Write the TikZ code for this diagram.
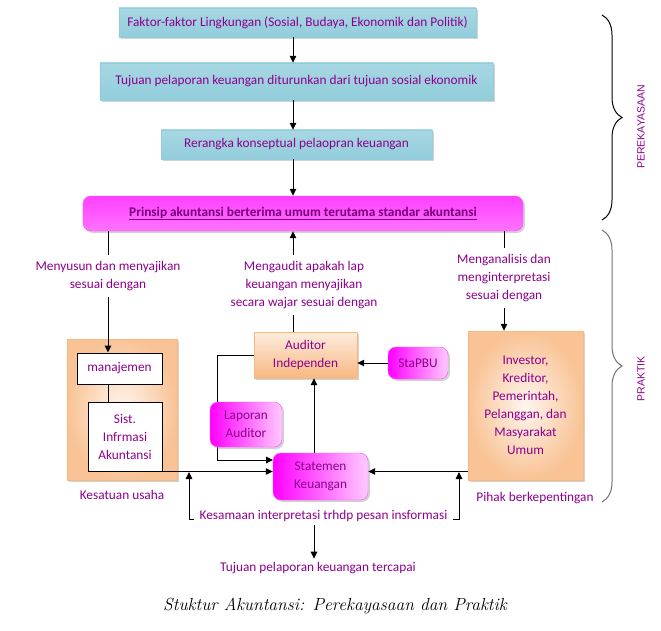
\documentclass[tikz,border=0pt]{standalone}
\usepackage{fontspec}
\newfontfamily\calibri{Carlito}
\newfontfamily\arial{Liberation Sans}
\usepackage{tikz}
\usetikzlibrary{positioning}
\usetikzlibrary{shadows}
\usetikzlibrary{arrows.meta}
\usetikzlibrary{decorations.pathreplacing}

\definecolor{ungu}{RGB}{140,0,140}
\definecolor{birutua}{RGB}{146,205,220}
\definecolor{birumuda}{RGB}{230,245,249}
\definecolor{oranye}{RGB}{248,184,130}
\definecolor{oranyemuda}{RGB}{253,236,222}
\definecolor{merahjambu}{RGB}{255,0,255}
\definecolor{jambumuda}{RGB}{255,180,255}

\tikzset{
	tulisan/.style={text=ungu,font=\calibri\fontsize{13.3bp}{18bp}\selectfont,align=center},
	bayang/.style={drop shadow={shadow xshift=2bp,shadow yshift=-2bp,fill=black!35}},
	kotakbiru/.style={tulisan,draw=birutua,top color=birutua!80,middle color=birumuda,bottom color=birutua,bayang,inner sep=0pt},
	kotakjambu/.style={tulisan,draw=merahjambu!70,rounded corners=8bp,left color=merahjambu,right color=jambumuda!70,bayang,inner sep=0pt},
	kotakprinsip/.style={kotakjambu,top color=merahjambu!75,middle color=jambumuda!60,bottom color=merahjambu!55},
	kotakoranye/.style={tulisan,draw=oranye,shading=radial,inner color=oranyemuda!50,outer color=oranye!85,bayang,inner sep=0pt},
	kotakauditor/.style={tulisan,draw=oranye,top color=oranyemuda,bottom color=oranye,bayang,inner sep=0pt},
	kotakputih/.style={tulisan,draw=black,fill=white,line width=1bp,inner sep=0pt},
	garis/.style={line width=1bp,black},
	panah/.style={garis,-{Triangle[length=7bp,width=6.5bp]}},
	kurung/.style={decorate,decoration={brace,amplitude=20bp},line width=1bp}
}

\begin{document}
\begin{tikzpicture}[x=1bp,y=-1bp]
	\useasboundingbox (0,0) rectangle (661,631);
	%% perekayasaan
	\coordinate (sumbu) at (293,0);
	\coordinate (naik) at (314,0);
	\node[kotakbiru,minimum width=357bp,minimum height=29bp] (f1) at (297.5,22.5) {Faktor-faktor Lingkungan (Sosial, Budaya, Ekonomik dan Politik)};
	\node[kotakbiru,minimum width=393bp,minimum height=37bp] (f2) at (296.5,81.5) {Tujuan pelaporan keuangan diturunkan dari tujuan sosial ekonomik};
	\node[kotakbiru,minimum width=271bp,minimum height=29bp] (f3) at (296.5,144.5) {Rerangka konseptual pelaopran keuangan};
	\node[kotakprinsip,minimum width=440bp,minimum height=35bp,text=ungu!85!black] (f4) at (303,213.5) {\textbf{\underline{Prinsip akuntansi berterima umum terutama standar akuntansi}}};
	% panah antar kotak
	\draw[panah] (f1.south -| sumbu) -- (f2.north -| sumbu);
	\draw[panah] (f2.south -| sumbu) -- (f3.north -| sumbu);
	\draw[panah] (f3.south -| sumbu) -- (f4.north -| sumbu);
	%% praktik
	\node[tulisan,inner ysep=6bp] (t1) at (108,276) {Menyusun dan menyajikan\\sesuai dengan};
	\node[tulisan,inner ysep=6bp] (t2) at (304,285) {Mengaudit apakah lap\\keuangan menyajikan\\secara wajar sesuai dengan};
	\node[tulisan,inner ysep=6bp] (t3) at (504,278) {Menganalisis dan\\menginterpretasi\\sesuai dengan};
	\node[kotakoranye,minimum width=110bp,minimum height=141bp] (k1) at (122,409.5) {};
	\node[kotakputih,minimum width=85bp,minimum height=31bp] (k2) at (119.5,368.5) {manajemen};
	\node[kotakputih,minimum width=74bp,minimum height=69bp] (k3) at (125,436.5) {Sist.\\Infrmasi\\Akuntansi};
	\node[tulisan,below=7bp of k1] (k4) {Kesatuan usaha};
	\node[kotakauditor,minimum width=103bp,minimum height=46bp] (u1) at (305.5,355) {Auditor\\Independen};
	\node[kotakjambu,minimum width=60bp,minimum height=32bp] (u3) at (418,363) {StaPBU};
	\node[kotakoranye,minimum width=115bp,minimum height=149bp] (i1) at (525.5,405.5) {Investor,\\Kreditor,\\Pemerintah,\\Pelanggan, dan\\Masyarakat\\Umum};
	\node[tulisan] (i2) at (535,498) {Pihak berkepentingan};
	\coordinate (belok) at (217,460);
	\draw[panah] (u1.west) -| (belok) -- (belok -| 273,0);
	\node[kotakjambu,minimum width=72bp,minimum height=45bp] (u2) at (246,424.5) {Laporan\\Auditor};
	\node[kotakjambu,minimum width=95bp,minimum height=47bp] (s1) at (320.5,476.5) {Statemen\\Keuangan};
	% garis dan panah bawah
	\draw[garis] (f4.south -| t1) -- (t1.north);
	\draw[panah] (t1.south) -- (k2.north -| t1);
	\draw[garis] (k2.south -| t1) -- (k3.north -| t1);
	\draw[panah] (t2.north -| sumbu) -- (f4.south -| sumbu);
	\draw[garis] (t2.south -| sumbu) -- (u1.north -| sumbu);
	\draw[garis] (f4.south -| t3) -- (t3.north);
	\draw[panah] (t3.south) -- (i1.north -| t3);
	\draw[panah] (u3.west) -- (u3.west -| u1.east);
	\draw[panah] (s1.north -| naik) -- (u1.south -| naik);
	\draw[panah] (k3.south east) -- (k3.south east -| s1.west);
	\draw[panah] (i1.west |- k3.south) -- (s1.east |- k3.south);
	\node[tulisan,anchor=base,inner xsep=5bp,inner ysep=3bp] (kes) at (323.5,519.5) {Kesamaan interpretasi trhdp pesan insformasi};
	\coordinate (kiri) at (189,472);
	\coordinate (kanan) at (459,472);
	\draw[panah] (kes.base west) -| (kiri);
	\draw[panah] (kes.base east) -| (kanan);
	\node[tulisan] (tc) at (318,568) {Tujuan pelaporan keuangan tercapai};
	\draw[panah] (kes.south -| naik) -- (tc.north -| naik);
	%% kurung kurawal
	\coordinate (r1) at (602,15);
	\coordinate (r2) at (602,220);
	\coordinate (r3) at (602,230);
	\coordinate (r4) at (602,502);
	\draw[kurung] (r1) -- (r2);
	\draw[kurung,black!55] (r3) -- (r4);
	\node[rotate=90,text=ungu,font=\arial\fontsize{10.5bp}{12bp}\selectfont] (p1) at (641,127) {PEREKAYASAAN};
	\node[rotate=90,text=ungu,font=\arial\fontsize{10.5bp}{12bp}\selectfont] (p2) at (641,379) {PRAKTIK};
	\node[font=\itshape\fontsize{17.5bp}{20bp}\selectfont] (judul) at (335,606) {Stuktur Akuntansi: Perekayasaan dan Praktik};
\end{tikzpicture}
\end{document}
